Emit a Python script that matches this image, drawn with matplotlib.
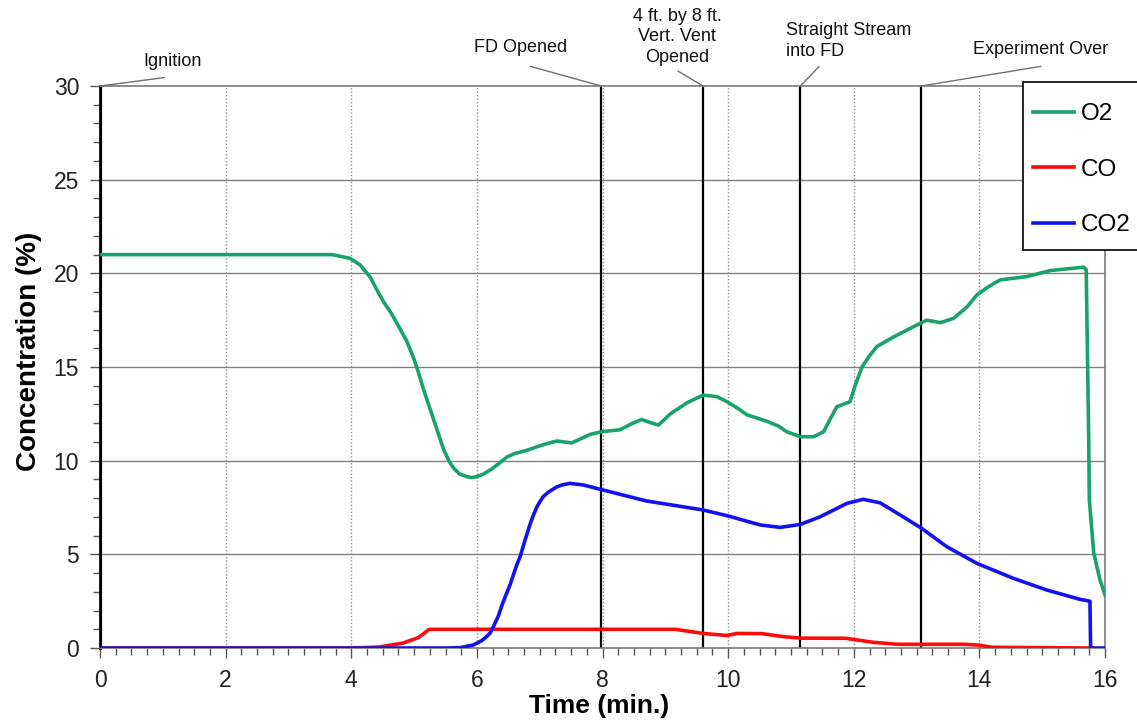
import matplotlib
matplotlib.use("Agg")
import matplotlib.pyplot as plt
from matplotlib.ticker import MultipleLocator
from matplotlib.patches import Rectangle

# O2 concentration (%)
o2_t = [0, 3.7, 3.98, 4.14, 4.3, 4.41, 4.51, 4.63, 4.75, 4.88, 4.99, 5.07, 5.15, 5.31,
        5.47, 5.56, 5.63, 5.72, 5.84, 5.92, 6.0, 6.1, 6.21, 6.35, 6.48, 6.6, 6.79,
        7.05, 7.27, 7.51, 7.8, 7.99, 8.28, 8.45, 8.62, 8.75, 8.89, 9.08, 9.35, 9.6,
        9.82, 9.98, 10.15, 10.3, 10.62, 10.8, 10.93, 11.15, 11.36, 11.52, 11.62, 11.73,
        11.94, 12.03, 12.13, 12.25, 12.37, 12.63, 12.95, 13.16, 13.38, 13.59, 13.8,
        13.96, 14.15, 14.33, 14.76, 15.13, 15.66, 15.7, 15.74, 15.75, 15.82, 15.92, 16.0]
o2_v = [21.0, 21.0, 20.8, 20.45, 19.8, 19.1, 18.5, 17.9, 17.2, 16.4, 15.5, 14.7, 13.8, 12.2,
        10.6, 9.95, 9.6, 9.3, 9.15, 9.1, 9.15, 9.28, 9.5, 9.85, 10.2, 10.38, 10.55,
        10.85, 11.05, 10.95, 11.4, 11.55, 11.65, 11.95, 12.2, 12.05, 11.9, 12.5, 13.1, 13.5,
        13.42, 13.15, 12.8, 12.45, 12.1, 11.85, 11.55, 11.28, 11.28, 11.55, 12.2, 12.88,
        13.15, 14.1, 15.0, 15.6, 16.1, 16.6, 17.15, 17.5, 17.37, 17.6, 18.2,
        18.85, 19.3, 19.65, 19.83, 20.15, 20.33, 20.2, 11.1, 7.9, 5.06, 3.63, 2.83]

# CO concentration (%)
co_t = [0, 4.0, 4.43, 4.82, 5.07, 5.24, 9.16, 9.6, 9.98, 10.14, 10.53, 10.9, 11.15,
        11.87, 12.3, 12.7, 13.78, 14.0, 14.2, 15.8]
co_v = [0, 0, 0.05, 0.26, 0.56, 1.0, 1.0, 0.78, 0.67, 0.78, 0.77, 0.6, 0.53,
        0.52, 0.31, 0.2, 0.2, 0.15, 0.04, 0]

# CO2 concentration (%)
co2_t = [0, 5.5, 5.73, 5.94, 6.08, 6.15, 6.21, 6.27, 6.34, 6.4, 6.47, 6.53, 6.58, 6.63,
         6.69, 6.77, 6.85, 6.9, 6.95, 7.0, 7.06, 7.15, 7.27, 7.35, 7.48, 7.7, 7.99, 8.7,
         9.6, 10.0, 10.51, 10.83, 11.15, 11.46, 11.89, 12.15, 12.42, 12.74, 13.08,
         13.48, 13.96, 14.54, 15.07, 15.6, 15.76, 15.77, 16.0]
co2_v = [0, 0, 0.02, 0.16, 0.4, 0.6, 0.8, 1.2, 1.7, 2.3, 2.9, 3.4, 3.9, 4.4,
         4.9, 5.8, 6.65, 7.1, 7.5, 7.8, 8.1, 8.35, 8.6, 8.7, 8.79, 8.7, 8.45, 7.85,
         7.37, 7.05, 6.57, 6.44, 6.6, 7.0, 7.72, 7.94, 7.75, 7.1, 6.39,
         5.41, 4.52, 3.72, 3.1, 2.6, 2.5, 0, 0]

# events (min.)
event_t = [0, 7.98, 9.6, 11.15, 13.07]
event_lbl = ["Ignition", "FD Opened", "4 ft. by 8 ft.\nVert. Vent\nOpened",
             "Straight Stream\ninto FD", "Experiment Over"]

W, H = 1137, 721
fig = plt.figure(figsize=(W / 100, H / 100), dpi=100)
ax = fig.add_axes([0.088, 0.1012, 0.8839, 0.7795])

# grid
for y in [5, 10, 15, 20, 25]:
    ax.axhline(y, color="#808080", lw=1.0, zorder=1)
for x in [2, 4, 6, 8, 10, 12, 14]:
    ax.axvline(x, color="#909090", lw=1.0, ls=(0, (1, 1.5)), zorder=1)

# event lines
for i, t in enumerate(event_t):
    ax.axvline(t, color="black", lw=3.0 if i == 0 else 1.6, zorder=2)

ax.plot(o2_t, o2_v, color="#17a36b", lw=2.6, label="O2", zorder=3)
ax.plot(co_t, co_v, color="#ff0a0a", lw=2.6, label="CO", zorder=3)
ax.plot(co2_t, co2_v, color="#1212f0", lw=2.6, label="CO2", zorder=4)

ax.set_xlim(0, 16)
ax.set_ylim(0, 30)
ax.xaxis.set_major_locator(MultipleLocator(2))
ax.xaxis.set_minor_locator(MultipleLocator(0.25))
ax.yaxis.set_major_locator(MultipleLocator(5))
ax.yaxis.set_minor_locator(MultipleLocator(1))
ax.tick_params(axis="both", which="major", direction="out", length=7, width=1,
               color="#555555", labelsize=16.5, labelcolor="#222222", pad=8)
ax.tick_params(axis="both", which="minor", direction="out", length=5, width=1,
               color="#555555")
for lab in ax.get_xticklabels() + ax.get_yticklabels():
    lab.set_family("Liberation Sans")

for s in ["top", "right", "bottom"]:
    ax.spines[s].set_color("#7a7a7a")
    ax.spines[s].set_linewidth(1.2)
ax.spines["left"].set_color("black")
ax.spines["left"].set_linewidth(2)

ax.set_xlabel("Time (min.)", fontsize=19, fontweight="bold", family="Liberation Sans")
ax.set_ylabel("Concentration (%)", fontsize=20, fontweight="bold",
              family="Liberation Sans")
ax.xaxis.set_label_coords(0.497, -0.081)
ax.yaxis.set_label_coords(-0.058, 0.528)

# event annotations
txt_pos = [(1.15, 31.3, "center"), (6.70, 32.05, "center"), (9.19, 32.62, "center"),
           (10.92, 32.4, "left"), (14.98, 31.95, "center")]
lead_from = [(1.02, 30.45), (6.85, 31.05), (9.2, 30.8), (11.45, 31.05), (14.98, 31.05)]
for t, lbl, (tx, ty, ha), (lx, ly) in zip(event_t, event_lbl, txt_pos, lead_from):
    ax.text(tx, ty, lbl, ha=ha, va="center", fontsize=13, family="Liberation Sans",
            color="#111111", linespacing=1.3, clip_on=False)
    ax.annotate("", xy=(t, 30), xytext=(lx, ly), annotation_clip=False,
                arrowprops=dict(arrowstyle="-", color="#707070", lw=1.0,
                                shrinkA=0, shrinkB=0))

# legend frame (runs off the right edge like the source)
fig.add_artist(Rectangle((1023 / W, 1 - 250 / H), 130 / W, 168 / H,
                         transform=fig.transFigure, facecolor="white",
                         edgecolor="black", lw=1.2, zorder=4))
leg = fig.legend(loc="upper left", bbox_to_anchor=(1033 / W, 1 - 103 / H),
                 borderaxespad=0, frameon=False,
                 prop={"family": "Liberation Sans", "size": 17.5},
                 handlelength=1.7, handletextpad=0.25, labelspacing=1.38,
                 borderpad=0)
leg.set_zorder(5)
for h in leg.get_lines():
    h.set_linewidth(2.6)

fig.savefig("out.png", dpi=100)
